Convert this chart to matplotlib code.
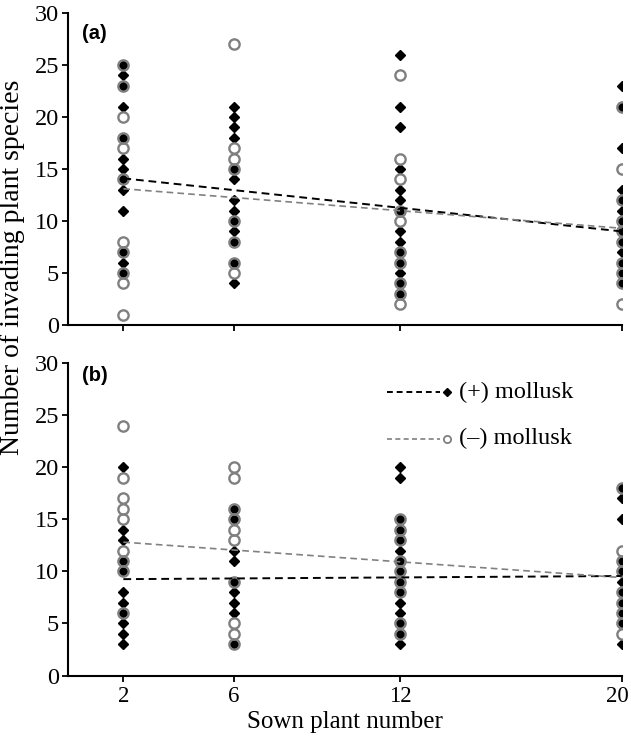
import matplotlib.pyplot as plt
import matplotlib.transforms as mtransforms

plt.rcParams['font.family'] = 'Liberation Serif'

# sown plant number levels
sown = [2, 6, 12, 20]

# panel (a): invading species per plot, (+) mollusk and (-) mollusk
a_plus = [
    [25, 24, 23, 21, 18, 16, 15, 14, 13, 11, 7, 6, 5],
    [21, 20, 19, 18, 15, 14, 12, 11, 10, 9, 8, 6, 4],
    [26, 21, 19, 15, 13, 12, 11, 9, 8, 7, 6, 5, 4, 3],
    [23, 21, 17, 13, 12, 11, 10, 9, 8, 7, 6, 5, 4],
]
a_minus = [
    [25, 23, 20, 18, 17, 14, 8, 7, 5, 4, 1],
    [27, 17, 16, 15, 10, 8, 6, 5],
    [24, 16, 14, 11, 10, 7, 6, 4, 3, 2],
    [21, 15, 12, 10, 9, 8, 6, 5, 4, 2],
]

# panel (b)
b_plus = [
    [20, 14, 13, 11, 10, 8, 7, 6, 5, 4, 3],
    [16, 15, 12, 11, 9, 8, 7, 6, 3],
    [20, 19, 15, 14, 13, 12, 11, 10, 9, 8, 7, 6, 5, 4, 3],
    [18, 17, 15, 11, 10, 9, 8, 7, 6, 5, 3],
]
b_minus = [
    [24, 19, 17, 16, 15, 12, 11, 10, 6],
    [20, 19, 16, 15, 14, 13, 9, 5, 4, 3],
    [15, 14, 13, 11, 10, 9, 8, 5, 4],
    [18, 12, 11, 10, 8, 7, 6, 5, 4],
]

# fitted trend lines (end points at sown = 2 and 20)
trend_x = [2, 20]
a_plus_trend = [14.1, 9.0]
a_minus_trend = [13.1, 9.3]
b_plus_trend = [9.25, 9.55]
b_minus_trend = [12.8, 9.4]

grey = '#808080'
W, H = 631, 742

fig = plt.figure(figsize=(W / 100, H / 100), dpi=100)
ax_a = fig.add_axes([68 / W, 1 - 325 / H, 553.7 / W, 312 / H])
ax_b = fig.add_axes([68 / W, 1 - 675.5 / H, 553.7 / W, 312.5 / H])


def draw_panel(ax, plus, minus, plus_trend, minus_trend):
    for x, vals in zip(sown, plus):
        ax.plot([x] * len(vals), vals, ls='none', marker='D', ms=5.2,
                color='black', zorder=2)
    for x, vals in zip(sown, minus):
        ax.plot([x] * len(vals), vals, ls='none', marker='o', ms=7.4,
                mfc='none', mec=grey, mew=1.7, zorder=3)
    ax.plot(trend_x, plus_trend, color='black', lw=1.4,
            ls=(0, (4, 2.5)), zorder=4)
    ax.plot(trend_x, minus_trend, color=grey, lw=1.2,
            ls=(0, (4, 2.5)), zorder=4)

    ax.set_xlim(0, 20)
    ax.set_ylim(0, 30)
    ax.set_xticks(sown)
    ax.set_yticks(range(0, 31, 5))
    for s in ['top', 'right']:
        ax.spines[s].set_visible(False)
    for s in ['left', 'bottom']:
        ax.spines[s].set_linewidth(1.5)
    ax.tick_params(direction='out', length=4.5, width=1.3, labelsize=17.5, pad=2)
    ax.tick_params(axis='x', labelsize=16.5, pad=3)
    ax.set_facecolor('none')


draw_panel(ax_a, a_plus, a_minus, a_plus_trend, a_minus_trend)
draw_panel(ax_b, b_plus, b_minus, b_plus_trend, b_minus_trend)
ax_a.tick_params(labelbottom=False)

# nudge the last x tick label left so it stays inside the figure
last = ax_b.get_xticklabels()[-1]
last.set_transform(last.get_transform() +
                   mtransforms.ScaledTranslation(-4 / 100, 0, fig.dpi_scale_trans))

ax_a.text(0.025, 0.965, '(a)', transform=ax_a.transAxes, ha='left', va='top',
          fontsize=14.5, fontweight='bold', family='Liberation Sans')
ax_b.text(0.025, 0.99, '(b)', transform=ax_b.transAxes, ha='left', va='top',
          fontsize=14.5, fontweight='bold', family='Liberation Sans')

# legend drawn by hand: dashed line ending in the marker
ax_b.plot([0.576, 0.672], [0.907, 0.907], transform=ax_b.transAxes,
          color='black', lw=1.4, ls=(0, (3, 2)), clip_on=False)
ax_b.plot([0.684], [0.907], transform=ax_b.transAxes, marker='D', ms=4.4,
          color='black', ls='none', clip_on=False)
ax_b.text(0.706, 0.907, '(+) mollusk', transform=ax_b.transAxes,
          ha='left', va='center', fontsize=17.5)
ax_b.plot([0.576, 0.672], [0.757, 0.757], transform=ax_b.transAxes,
          color=grey, lw=1.2, ls=(0, (3, 2)), clip_on=False)
ax_b.plot([0.684], [0.757], transform=ax_b.transAxes, marker='o', ms=5.2,
          mfc='none', mec=grey, mew=1.3, ls='none', clip_on=False)
ax_b.text(0.706, 0.757, '(\u2013) mollusk', transform=ax_b.transAxes,
          ha='left', va='center', fontsize=17.5)

ax_b.set_xlabel('Sown plant number', fontsize=18, labelpad=3)
fig.text(13 / W, 1 - 267 / H, 'Number of invading plant species',
         rotation=90, ha='center', va='center', fontsize=20)

fig.savefig('out.png', dpi=100)
